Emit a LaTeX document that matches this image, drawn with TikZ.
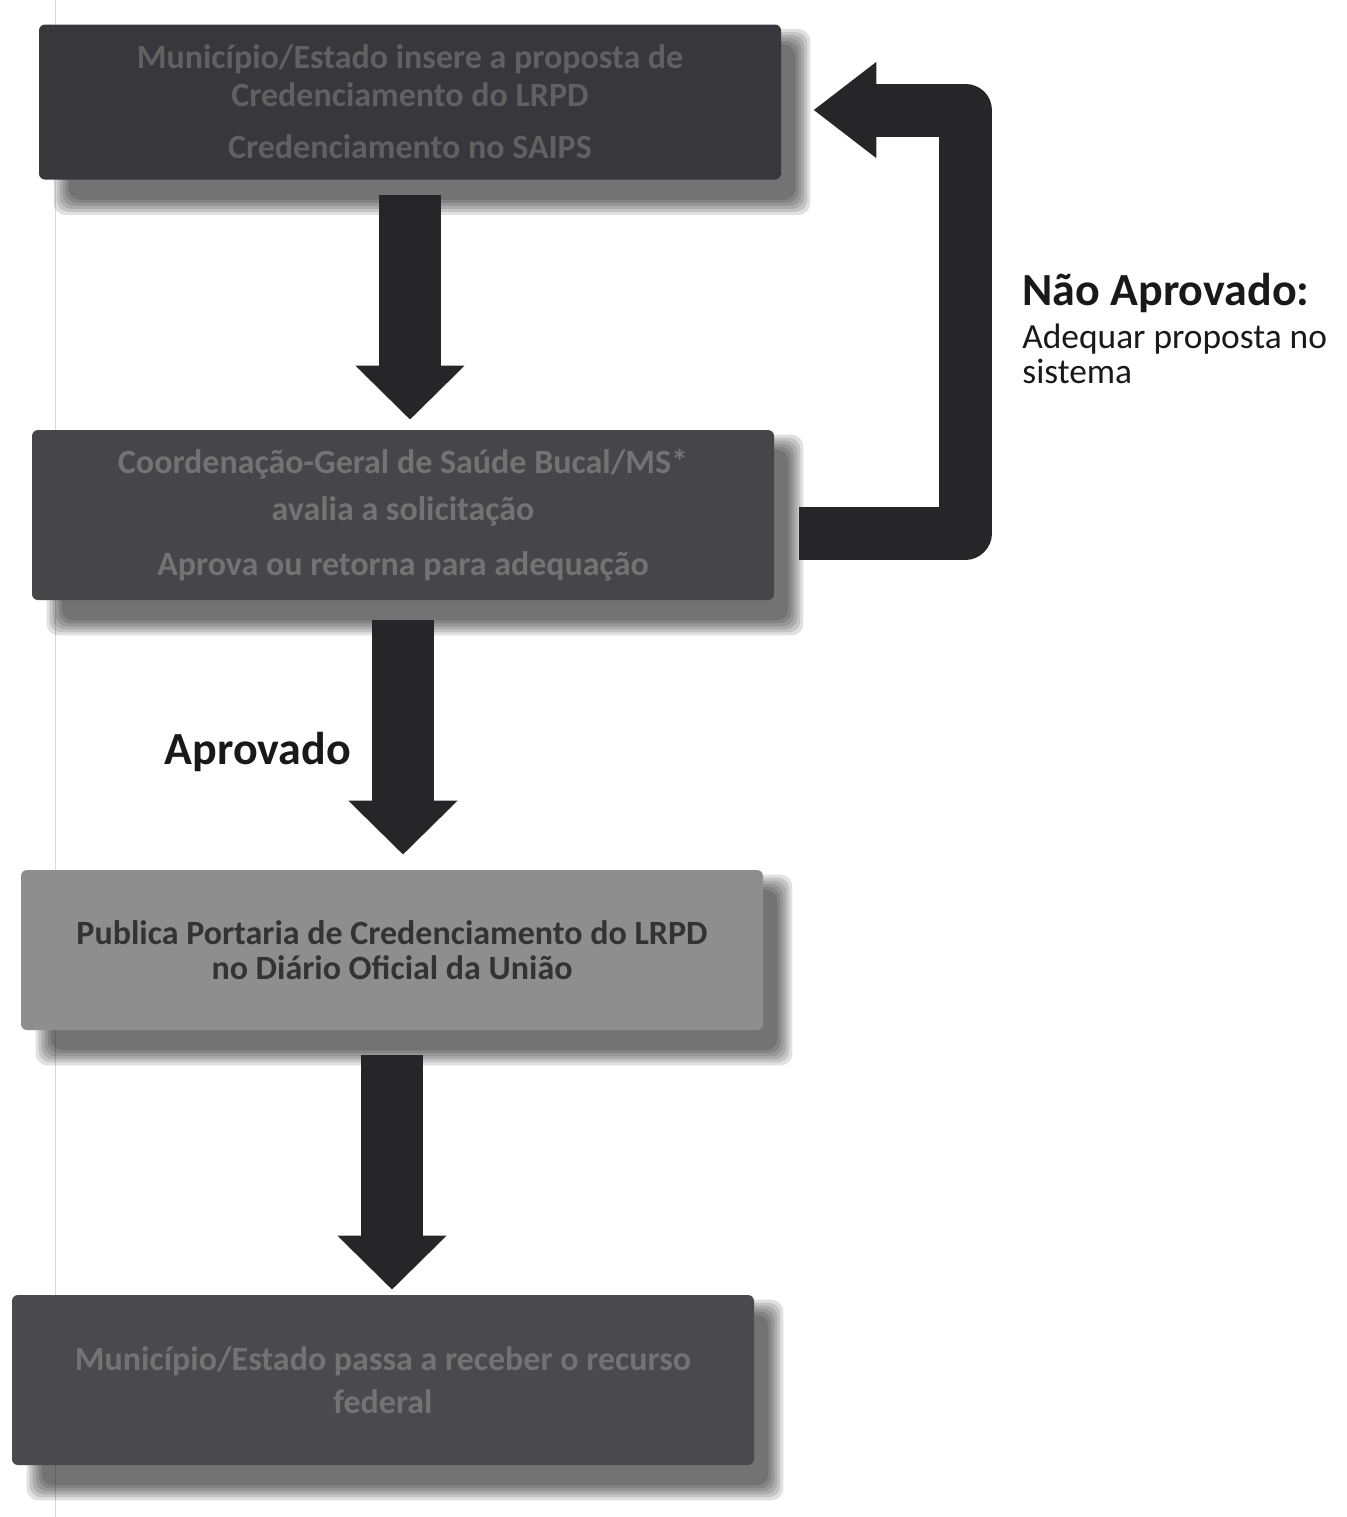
\documentclass[tikz,border=0pt]{standalone}
\usepackage{fontspec}
\setmainfont{Carlito}
\usetikzlibrary{positioning,arrows.meta,backgrounds}
\definecolor{boxone}{HTML}{38383C}
\definecolor{boxtwo}{HTML}{464648}
\definecolor{boxthree}{HTML}{8E8E8E}
\definecolor{boxfour}{HTML}{4A4A4C}
\definecolor{arrowblack}{HTML}{262629}

\begin{document}
\begin{tikzpicture}[x=0.5pt, y=-0.5pt, >={Triangle[width=53pt,length=27pt]}]
    \tikzstyle{every node} = [font=\bfseries\fontsize{17}{19}\selectfont]
    \tikzstyle{stepbox} = [align=center, minimum width=371pt, inner sep=0, rounded corners=3pt]
    \tikzstyle{softshadow} = [black, opacity=0.12, rounded corners=6pt]
    \tikzstyle{downarrow} = [->, line width=31pt, draw=arrowblack]
    \tikzstyle{backarrow} = [-{Triangle[width=46pt,length=31.5pt]}, line width=26.5pt, line join=round, draw=arrowblack]
    \tikzstyle{sidelabel} = [inner sep=0, text=black!90]

    \useasboundingbox (0,0) rectangle (1346,1517);

    \node (insere) [stepbox, fill=boxone, text=black!62, minimum height=77.5pt] at (410,102)
        {Município/Estado insere a proposta de\\ Credenciamento do LRPD\\[7pt] Credenciamento no SAIPS};
    \node (avalia) [stepbox, fill=boxtwo, text=black!55, minimum height=85pt] at (403,515)
        {Coordenação-Geral de Saúde Bucal/MS*\\[4.5pt] avalia a solicitação\\[8.5pt] Aprova ou retorna para adequação};
    \node (publica) [stepbox, fill=boxthree, text=black!80, minimum height=80pt] at (392,950)
        {Publica Portaria de Credenciamento do LRPD\\[-1.5pt] no Diário Oficial da União};
    \node (recebe) [stepbox, fill=boxfour, text=black!55, minimum height=85pt] at (383,1380)
        {Município/Estado passa a receber o recurso\\[2.5pt] federal};

    \begin{scope}[on background layer]
        \fill[white] (0,0) rectangle (1346,1517);
        \draw[black!15, line width=0.5pt] (55,0) -- (55,1517);
        \foreach \b in {insere,avalia,publica,recebe}
            \foreach \k in {0,...,5}
                \fill[softshadow] ([shift={(30-3*\k,20-3*\k)}]\b.north west) rectangle ([shift={(14+3*\k,20+3*\k)}]\b.south east);
    \end{scope}

    \draw [downarrow] ([yshift=-7.5pt]insere.south) -- ([yshift=5pt]insere.south |- avalia.north);
    \draw [downarrow] ([yshift=-10pt]avalia.south) -- node[sidelabel, pos=0.56, left=10.5pt, font=\bfseries\fontsize{23}{26}\selectfont] (aprovado) {Aprovado} ([yshift=7.5pt]avalia.south |- publica.north);
    \draw [downarrow] ([yshift=-12.5pt]publica.south) -- ([yshift=2.5pt]publica.south |- recebe.north);
    \draw [backarrow] ([xshift=12.5pt,yshift=-9pt]avalia.east) -- ++(166,0) |- ([xshift=16pt,yshift=-4pt]insere.east);

    \node (naoaprovado) [sidelabel, anchor=base west, font=\bfseries\fontsize{23}{26}\selectfont] at (1022,305) {Não Aprovado:};
    \node (adequar) [sidelabel, anchor=north west, align=left, font=\fontsize{17.7}{17.5}\selectfont] at (1022,324) {Adequar proposta no\\ sistema};
\end{tikzpicture}
\end{document}
